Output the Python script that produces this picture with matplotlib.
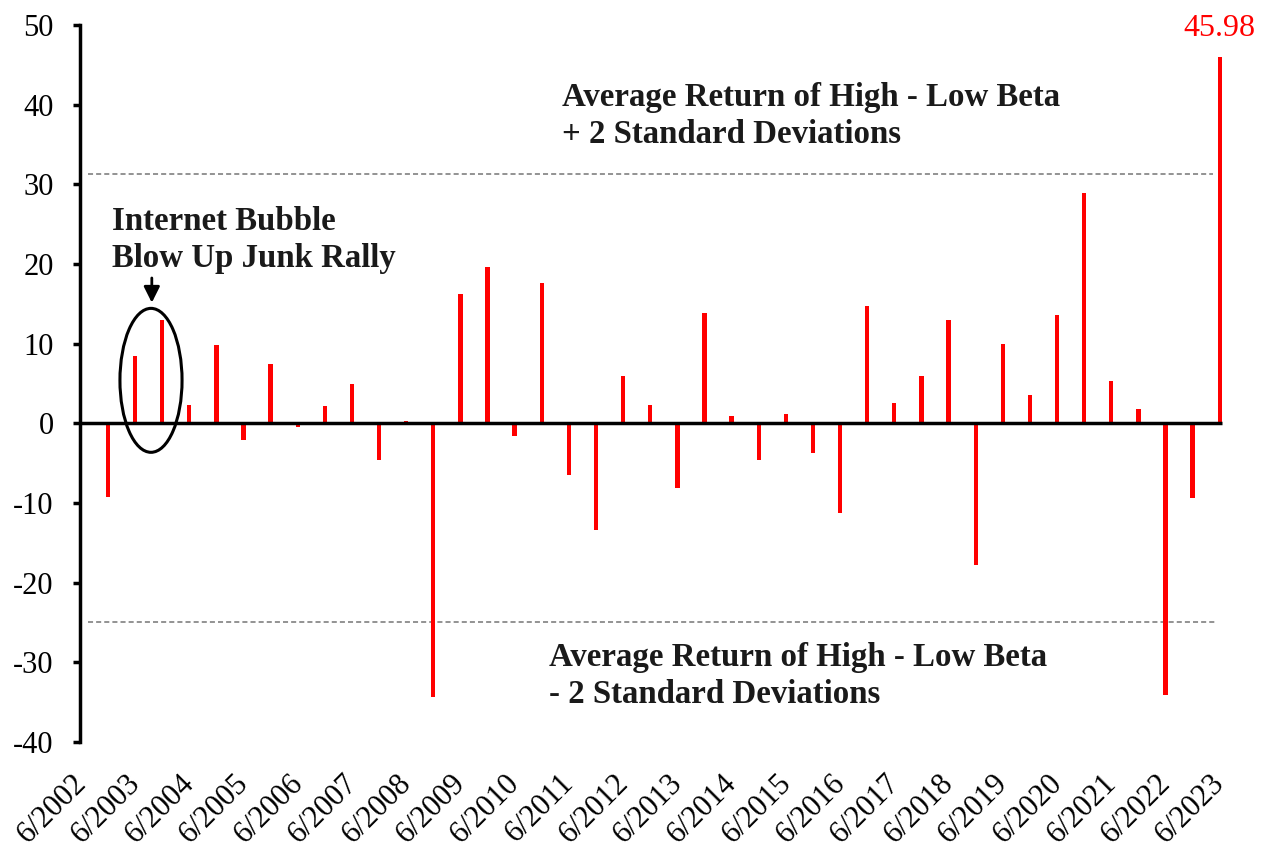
import numpy as np
import matplotlib
matplotlib.use("Agg")
import matplotlib.pyplot as plt
from matplotlib.patches import Ellipse

# semi-annual High - Low Beta returns, 6/2002 .. 12/2022 (last = 6/2023)
returns = [-9.2, 8.5, 13.0, 2.3, 9.8, -2.1, 7.4, -0.5, 2.2, 4.9,
           -4.6, 0.3, -34.3, 16.2, 19.6, -1.6, 17.6, -6.5, -13.4, 5.9,
           2.3, -8.1, 13.9, 0.9, -4.6, 1.2, -3.7, -11.2, 14.7, 2.5,
           6.0, 13.0, -17.8, 9.9, 3.5, 13.6, 28.9, 5.3, 1.8, -34.1,
           -9.4, 45.98]
years = list(range(2002, 2024))
tick_labels = [f"6/{y}" for y in years]
y_ticks = list(range(-40, 51, 10))

upper_band = 31.3
lower_band = -24.9

plt.rcParams['font.family'] = ['Liberation Serif', 'DejaVu Serif']

fig = plt.figure(figsize=(12.69, 8.52), dpi=100)
ax = fig.add_axes([0.0630, 0.1291, 0.9078, 0.8415])

x = np.arange(len(returns))
ax.bar(x, returns, width=0.16, color='#ff0000', zorder=3)

x_left, x_right = -1.03, 41.45
ax.set_xlim(x_left, x_right)
ax.set_ylim(-40, 50)

# zero line and +/- 2 sd bands
ax.hlines(0, x_left, x[-1] + 0.07, colors='black', lw=2.5, zorder=4)
band_style = dict(colors='#8a8a8a', linestyles=(0, (2.8, 1.7)), lw=1.3, zorder=2)
ax.hlines(upper_band, -0.74, x[-1] - 0.26, **band_style)
ax.hlines(lower_band, -0.74, x[-1] - 0.15, **band_style)

# axes styling
for side in ['top', 'right', 'bottom']:
    ax.spines[side].set_visible(False)
ax.spines['left'].set_linewidth(2.5)
ax.set_yticks(y_ticks)
ax.set_yticklabels([str(v) for v in y_ticks])
ax.tick_params(axis='y', length=5, width=2.5, pad=14, labelsize=22)

label_pos = np.arange(len(tick_labels)) * 2 - 0.59
ax.set_xticks(label_pos)
ax.set_xticklabels(tick_labels, rotation=45, ha='right')
ax.tick_params(axis='x', length=0, pad=19, labelsize=22)

# annotations
txt = dict(fontsize=23.7, fontweight='bold', color='#1a1a1a', va='top', ha='left',
           linespacing=1.25)
ax.text(16.74, 42.8, "Average Return of High - Low Beta\n+ 2 Standard Deviations", **txt)
ax.text(16.26, -27.5, "Average Return of High - Low Beta\n- 2 Standard Deviations", **txt)
ax.text(0.15, 27.3, "Internet Bubble\nBlow Up Junk Rally", **txt)

ax.add_patch(Ellipse((1.59, 5.4), 2.29, 18.07, fill=False, ec='black', lw=2.2, zorder=5))
ax.annotate('', xy=(1.62, 14.8), xytext=(1.62, 18.6),
            arrowprops=dict(arrowstyle='-|>', color='black', lw=2, mutation_scale=24))

ax.annotate(f"{returns[-1]:.2f}", xy=(x[-1], returns[-1]), xytext=(0, 15),
            textcoords='offset points', ha='center', va='baseline',
            fontsize=23, color='#ff0000')

fig.savefig('out.png', dpi=100)
